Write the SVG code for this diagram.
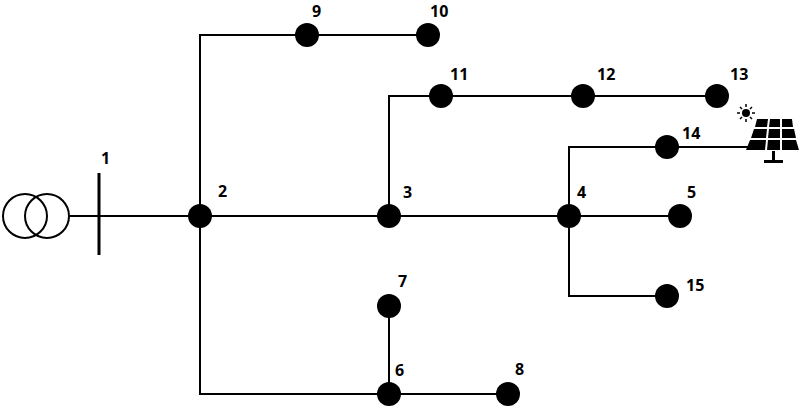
<svg xmlns="http://www.w3.org/2000/svg" width="800" height="409" viewBox="0 0 800 409">
<style>
.w{stroke:#000;stroke-width:2;fill:none}
.n{fill:#000}
.t{font-family:"Open Sans","DejaVu Sans",sans-serif;font-weight:bold;font-size:16px;fill:#000}
</style>
<rect width="800" height="409" fill="#fff"/>
<g id="connectors" class="w">
<line x1="69" y1="216" x2="569" y2="216"/>
<line x1="99" y1="173" x2="99" y2="255" stroke-width="3"/>
<polyline points="200,216 200,35 428,35"/>
<polyline points="200,216 200,394 508,394"/>
<polyline points="389,216 389,96 717,96"/>
<polyline points="569,216 569,147 750,147"/>
<polyline points="569,216 569,296 667,296"/>
<line x1="569" y1="216" x2="680" y2="216"/>
<line x1="389" y1="306" x2="389" y2="394"/>
</g>
<g id="transformer" class="w"><circle cx="25" cy="216" r="22"/><circle cx="47" cy="216" r="22"/></g>
<g id="n1"><text class="t" x="101" y="164">1</text></g>
<g id="n2"><circle class="n" cx="200" cy="216" r="12"/><text class="t" x="218" y="197">2</text></g>
<g id="n3"><circle class="n" cx="389" cy="216" r="12"/><text class="t" x="403" y="198">3</text></g>
<g id="n4"><circle class="n" cx="569" cy="216" r="12"/><text class="t" x="577" y="198">4</text></g>
<g id="n5"><circle class="n" cx="680" cy="216" r="12"/><text class="t" x="687" y="198">5</text></g>
<g id="n6"><circle class="n" cx="389" cy="394" r="12"/><text class="t" x="395" y="376">6</text></g>
<g id="n7"><circle class="n" cx="389" cy="306" r="12"/><text class="t" x="398" y="287">7</text></g>
<g id="n8"><circle class="n" cx="508" cy="394" r="12"/><text class="t" x="515" y="375">8</text></g>
<g id="n9"><circle class="n" cx="307" cy="35" r="12"/><text class="t" x="312" y="17">9</text></g>
<g id="n10"><circle class="n" cx="428" cy="35" r="12"/><text class="t" x="430" y="17">10</text></g>
<g id="n11"><circle class="n" cx="441" cy="96" r="12"/><text class="t" x="450" y="80">11</text></g>
<g id="n12"><circle class="n" cx="583" cy="96" r="12"/><text class="t" x="597" y="80">12</text></g>
<g id="n13"><circle class="n" cx="717" cy="96" r="12"/><text class="t" x="730" y="80">13</text></g>
<g id="n14"><circle class="n" cx="667" cy="147" r="12"/><text class="t" x="682" y="139">14</text></g>
<g id="n15"><circle class="n" cx="667" cy="296" r="12"/><text class="t" x="686" y="291">15</text></g>
<g id="pv">
<circle cx="746" cy="113" r="4" fill="#000"/>
<g stroke="#000" stroke-width="1.5"><line x1="746" y1="104" x2="746" y2="107"/><line x1="746" y1="119" x2="746" y2="122"/><line x1="737" y1="113" x2="740" y2="113"/><line x1="752" y1="113" x2="755" y2="113"/><line x1="740" y1="107" x2="742" y2="109"/><line x1="750" y1="117" x2="752" y2="119"/><line x1="752" y1="107" x2="750" y2="109"/><line x1="740" y1="119" x2="742" y2="117"/></g>
<g fill="#000">
<polygon points="757,119 768,119 767,127 755,127"/><polygon points="770,119 780,119 780,127 769,127"/><polygon points="782,119 792,119 793,127 782,127"/>
<polygon points="754,129 767,129 766,138 751,138"/><polygon points="769,129 780,129 780,138 768,138"/><polygon points="782,129 794,129 796,138 782,138"/>
<polygon points="750,140 766,140 765,150 746,150"/><polygon points="768,140 780,140 780,150 767,150"/><polygon points="782,140 796,140 799,150 782,150"/>
<rect x="772" y="151" width="3" height="10"/><rect x="764" y="160" width="19" height="3"/>
</g>
</g>
</svg>
